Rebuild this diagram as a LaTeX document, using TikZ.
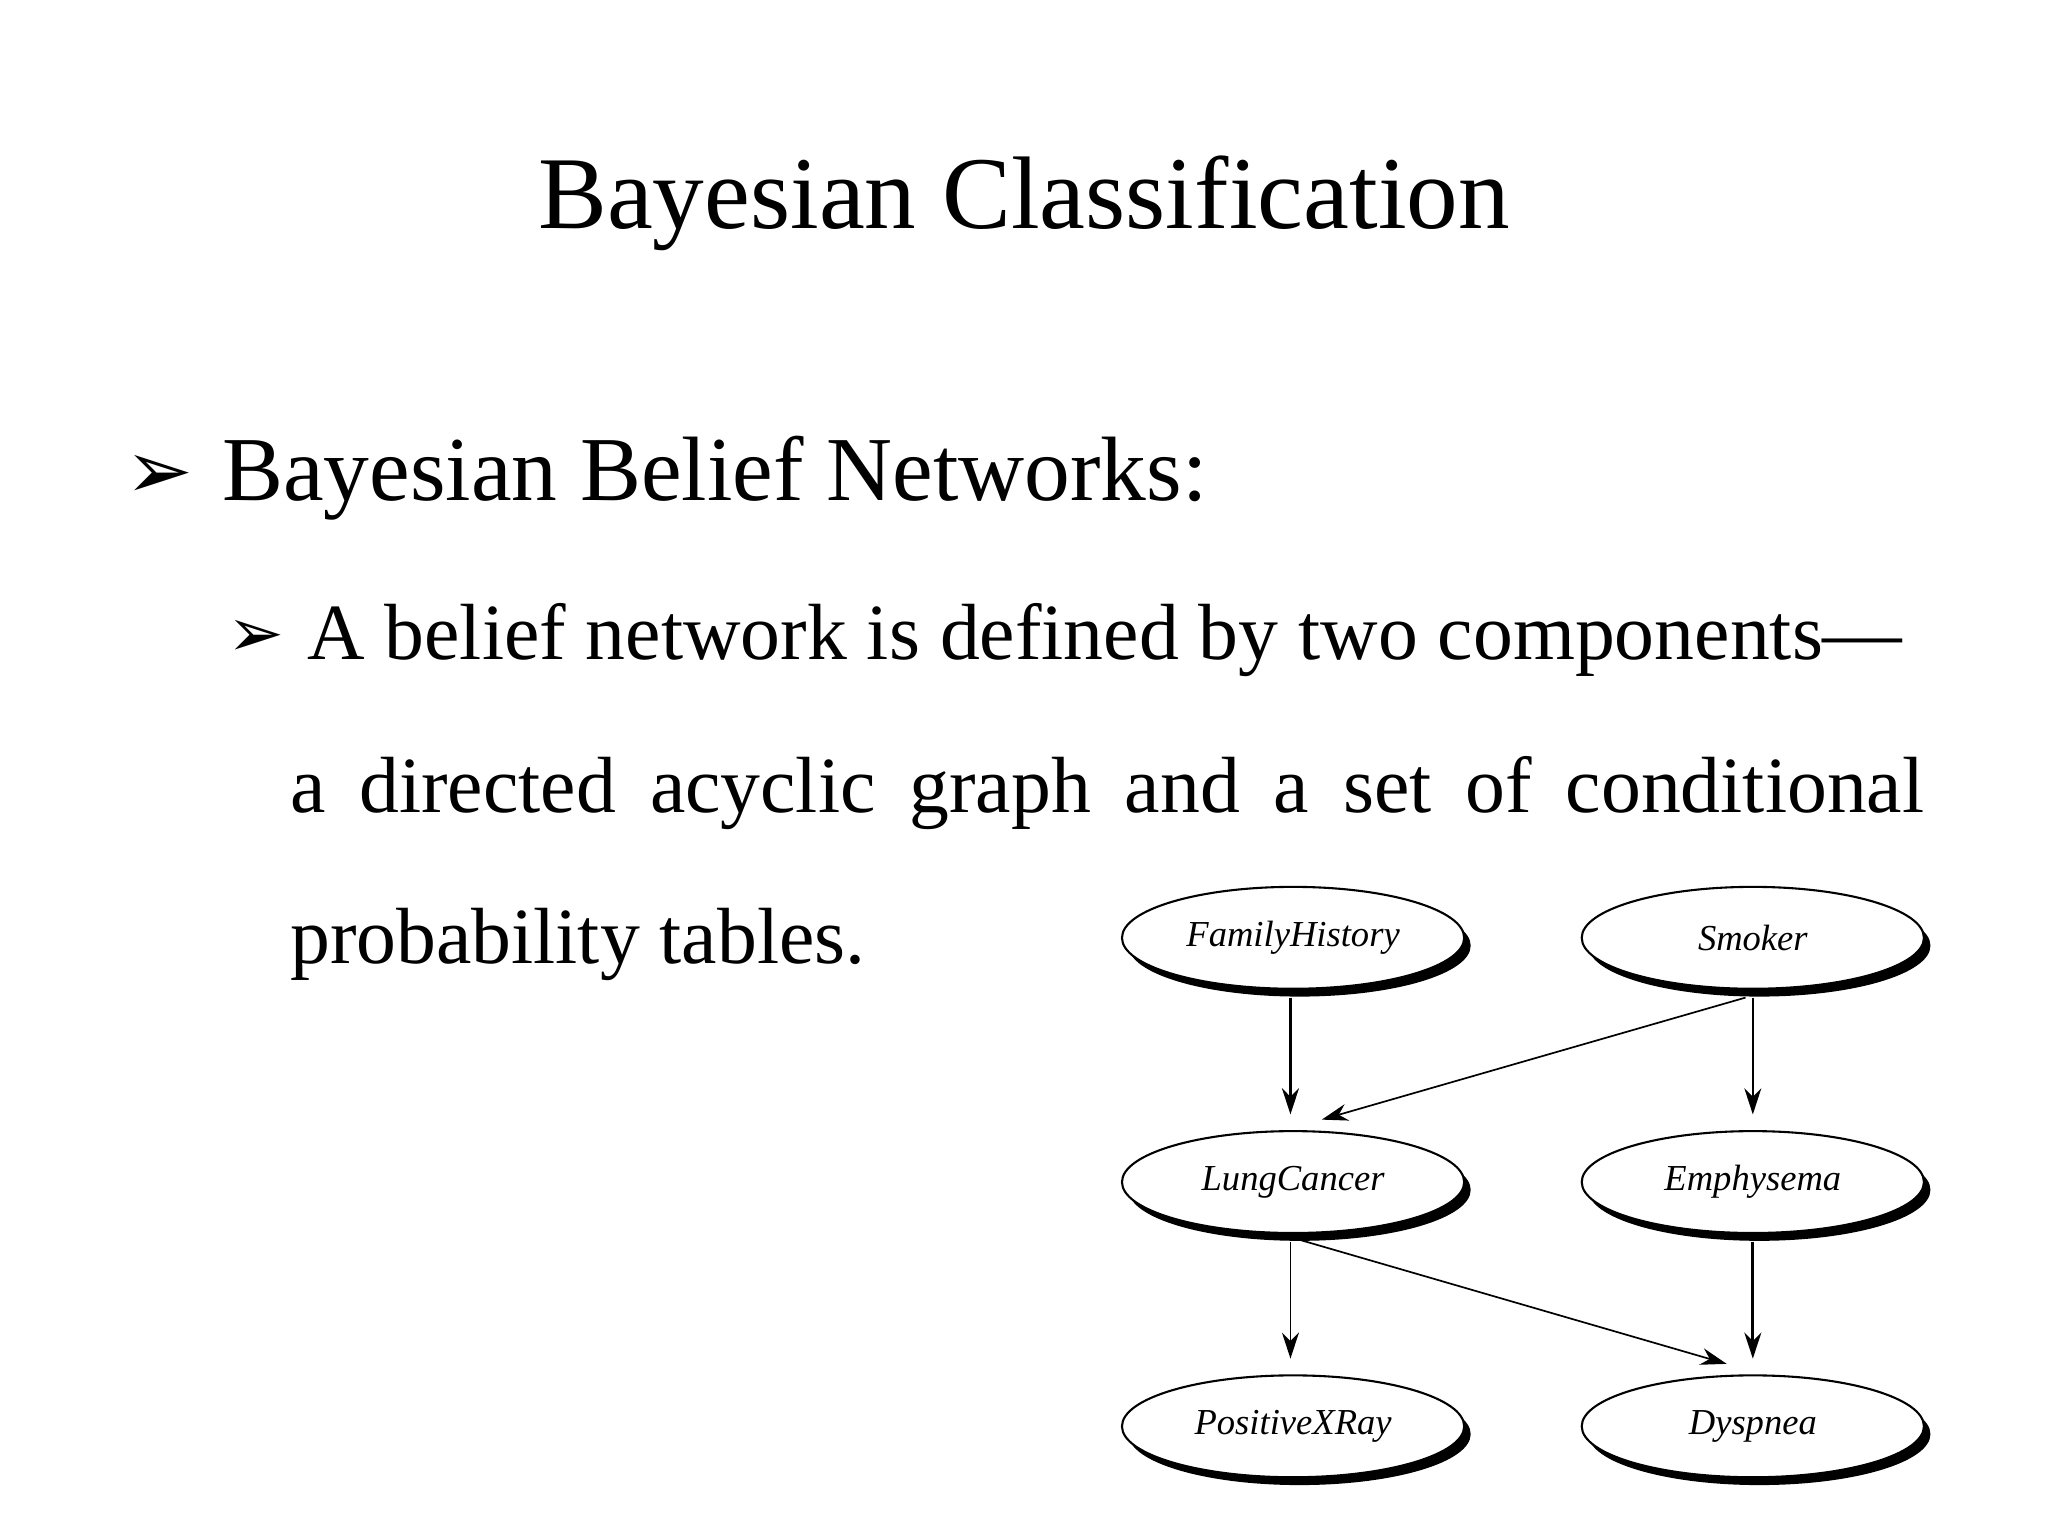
\documentclass[tikz,border=0pt]{standalone}
\usepackage{fontspec}
\setmainfont{Liberation Serif}
\newfontfamily\dvsans{DejaVu Sans}
\usetikzlibrary{shapes.geometric,arrows.meta}
\begin{document}
\begin{tikzpicture}[x=1pt,y=-1pt,
  bn/.style={ellipse,draw,line width=1.6pt,fill=white,minimum width=262pt,minimum height=78pt,inner sep=0pt,font=\fontsize{28}{32}\selectfont\itshape},
  ar/.style={-{Stealth[length=20pt,width=13pt]},line width=1.3pt},
  arb/.style={-{Stealth[length=20pt,width=13pt]},line width=2.4pt}]
\useasboundingbox (0,0) rectangle (1568,1176);
\node[anchor=base,font=\fontsize{79}{85}\selectfont] (title) at (784,175) {Bayesian Classification};
\node[anchor=base west,inner sep=0,font=\dvsans\fontsize{62}{70}\selectfont] (b1) at (96,382) {➢};
\node[anchor=base west,inner sep=0,font=\fontsize{70}{76}\selectfont] (t1) at (170,383) {Bayesian Belief Networks:};
\node[anchor=base west,inner sep=0,font=\dvsans\fontsize{52}{58}\selectfont] (b2) at (174,503) {➢};
\node[anchor=base west,inner sep=0,font=\fontsize{61}{66}\selectfont] (t2) at (235,505) {A belief network is defined by two components—};
\node[anchor=base west,inner sep=0,font=\fontsize{61}{66}\selectfont] (t3) at (222,622) {\makebox[1251pt][s]{a directed acyclic graph and a set of conditional}};
\node[anchor=base west,inner sep=0,font=\fontsize{61}{66}\selectfont] (t4) at (222,738) {probability tables.};
\foreach \n/\x/\y/\t in {fh/990/718/FamilyHistory,sm/1342/718/Smoker,lc/990/905/LungCancer,em/1342/905/Emphysema,px/990/1092/PositiveXRay,dy/1342/1092/Dyspnea}{
  \fill[black] (\x+5,\y+6) ellipse (131pt and 39pt);
  \node[bn] (\n) at (\x,\y) {\t};
}
\draw[arb] ([xshift=-2pt,yshift=-6pt]fh.south) -- ([xshift=-2pt,yshift=12pt]lc.north);
\draw[ar] ([yshift=-6pt]sm.-98) -- ([xshift=22pt,yshift=8pt]lc.north);
\draw[ar] ([yshift=-6pt]sm.south) -- ([yshift=12pt]em.north);
\draw[ar] ([xshift=-2pt,yshift=-6pt]lc.south) -- ([xshift=-2pt,yshift=12pt]px.north);
\draw[ar] ([yshift=-4pt]lc.-85) -- ([xshift=-20pt,yshift=8pt]dy.north);
\draw[arb] ([yshift=-6pt]em.south) -- ([yshift=12pt]dy.north);
\end{tikzpicture}
\end{document}
